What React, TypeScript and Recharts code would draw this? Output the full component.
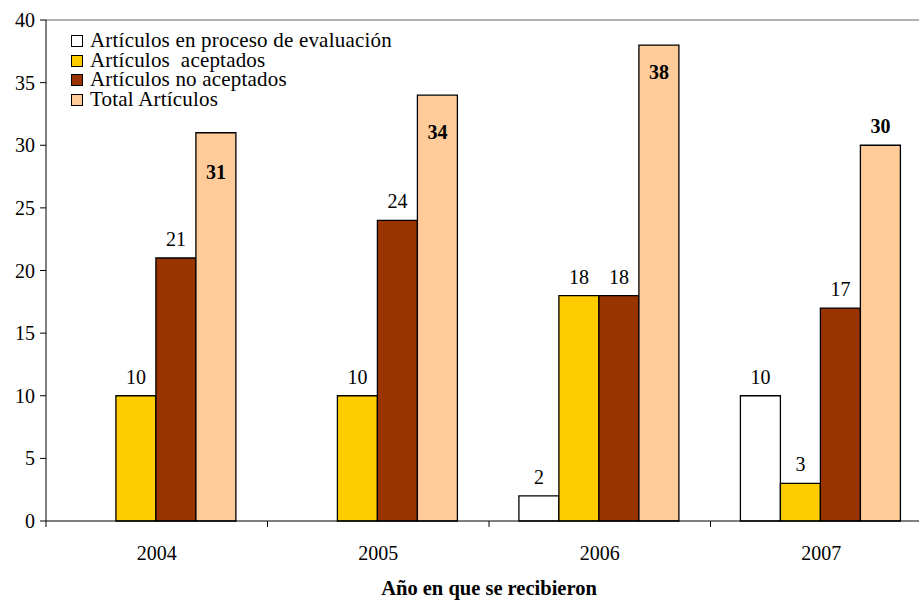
import { BarChart, Bar, XAxis, YAxis, LabelList, ReferenceLine, Label } from 'recharts'

const years = ['2004', '2005', '2006', '2007']
const enProceso: (number | null)[] = [null, null, 2, 10]
const aceptados = [10, 10, 18, 3]
const noAceptados = [21, 24, 18, 17]
const totales = [31, 34, 38, 30]
const yTicks = [0, 5, 10, 15, 20, 25, 30, 35, 40]

const series = [
  { key: 'enProceso', name: 'Artículos en proceso de evaluación', color: '#FFFFFF' },
  { key: 'aceptados', name: 'Artículos  aceptados', color: '#FFCC00' },
  { key: 'noAceptados', name: 'Artículos no aceptados', color: '#993300' },
  { key: 'total', name: 'Total Artículos', color: '#FFCC99' },
]

// vertical offset of the bold total labels from the bar top (Excel placed them unevenly)
const totalLabelDy = [39, 37, 27, -19]

const data = years.map((y, i) => ({
  year: y,
  enProceso: enProceso[i],
  aceptados: aceptados[i],
  noAceptados: noAceptados[i],
  total: totales[i],
}))

const FONT = 'Liberation Serif'

// eslint-disable-next-line @typescript-eslint/no-explicit-any
function AboveLabel({ x, y, width, value }: any) {
  if (value == null) return null
  return (
    <text x={x + width / 2} y={y - 19} textAnchor="middle" dominantBaseline="central"
      fontFamily={FONT} fontSize={20} fill="#000">
      {value}
    </text>
  )
}

// eslint-disable-next-line @typescript-eslint/no-explicit-any
function TotalLabel({ x, y, width, value, index }: any) {
  return (
    <text x={x + width / 2} y={y + totalLabelDy[index]} textAnchor="middle" dominantBaseline="central"
      fontFamily={FONT} fontSize={20} fontWeight="bold" fill="#000">
      {value}
    </text>
  )
}

// eslint-disable-next-line @typescript-eslint/no-explicit-any
function YearTick({ x, payload }: any) {
  const off = payload.offset ?? 0
  return (
    <g>
      <line x1={x - off} x2={x - off} y1={521} y2={527} stroke="#000" />
      <text x={x} y={553} textAnchor="middle" dominantBaseline="central"
        fontFamily={FONT} fontSize={20} fill="#000">
        {payload.value}
      </text>
    </g>
  )
}

// eslint-disable-next-line @typescript-eslint/no-explicit-any
function ValueTick({ x, y, payload }: any) {
  return (
    <text x={x + 1} y={y} textAnchor="end" dominantBaseline="central"
      fontFamily={FONT} fontSize={20} fill="#000">
      {payload.value}
    </text>
  )
}

function LegendBox() {
  return (
    <div style={{ position: 'absolute', left: 71, top: 31, fontFamily: FONT, fontSize: 21, color: '#000', lineHeight: '19.7px' }}>
      {series.map(s => (
        <div key={s.key} style={{ display: 'flex', alignItems: 'center', height: 19.7 }}>
          <span style={{
            display: 'inline-block', width: 12, height: 12, background: s.color,
            border: '1px solid #000', marginRight: 7, boxSizing: 'border-box',
          }} />
          <span style={{ whiteSpace: 'pre', letterSpacing: 0.2 }}>{s.name}</span>
        </div>
      ))}
    </div>
  )
}

export default function App() {
  return (
    <div style={{ position: 'fixed', left: 0, top: 0, width: 919, height: 601, overflow: 'hidden', background: '#fff', fontFamily: FONT }}>
      <BarChart width={940} height={601} data={data}
        margin={{ top: 20, right: 8, bottom: 0, left: 0 }}
        barCategoryGap="13.5%" barGap={0}>
        <ReferenceLine y={40} stroke="#999" strokeWidth={1.5} />
        <XAxis dataKey="year" height={80} axisLine={{ stroke: '#000' }} tickLine={false}
          tick={<YearTick />} interval={0}>
          <Label value="Año en que se recibieron" position="insideBottom" offset={6}
            fontFamily={FONT} fontSize={20.5} fontWeight="bold" fill="#000" />
        </XAxis>
        <YAxis width={46} domain={[0, 40]} ticks={yTicks} interval={0}
          axisLine={{ stroke: '#000' }} tickLine={{ stroke: '#000' }} tickSize={6} tickMargin={6}
          tick={<ValueTick />} />
        <Bar dataKey="enProceso" name={series[0].name} fill={series[0].color} stroke="#000" strokeWidth={1.3} isAnimationActive={false}>
          <LabelList dataKey="enProceso" content={<AboveLabel />} />
        </Bar>
        <Bar dataKey="aceptados" name={series[1].name} fill={series[1].color} stroke="#000" strokeWidth={1.3} isAnimationActive={false}>
          <LabelList dataKey="aceptados" content={<AboveLabel />} />
        </Bar>
        <Bar dataKey="noAceptados" name={series[2].name} fill={series[2].color} stroke="#000" strokeWidth={1.3} isAnimationActive={false}>
          <LabelList dataKey="noAceptados" content={<AboveLabel />} />
        </Bar>
        <Bar dataKey="total" name={series[3].name} fill={series[3].color} stroke="#000" strokeWidth={1.3} isAnimationActive={false}>
          <LabelList dataKey="total" content={<TotalLabel />} />
        </Bar>
      </BarChart>
      <LegendBox />
    </div>
  )
}
